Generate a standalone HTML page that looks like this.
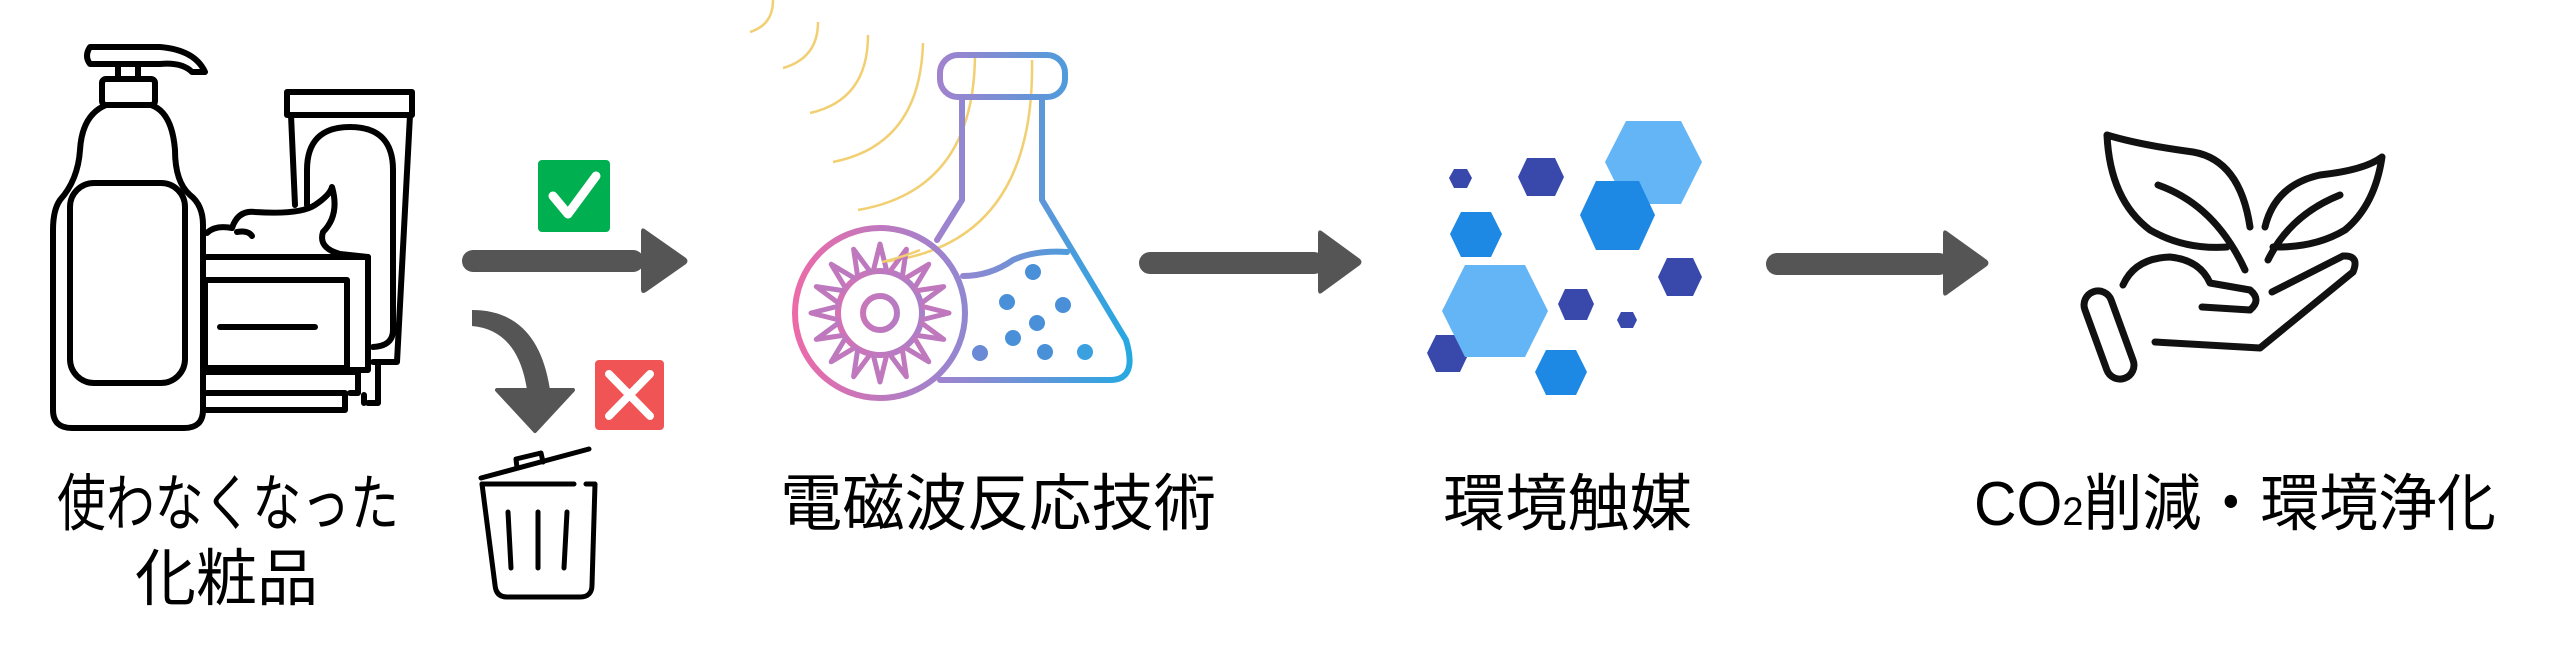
<!DOCTYPE html>
<html><head><meta charset="utf-8"><style>
html,body{margin:0;padding:0;background:#fff;}
svg{display:block;}
text{font-family:"Liberation Sans","Noto Sans CJK JP",sans-serif;fill:#000;}
</style></head><body>
<svg width="2560" height="653" viewBox="0 0 2560 653" xmlns="http://www.w3.org/2000/svg">
<defs>
<linearGradient id="g" x1="795" y1="0" x2="1135" y2="0" gradientUnits="userSpaceOnUse">
<stop offset="0" stop-color="#ec6aa8"/><stop offset="0.45" stop-color="#9b84cf"/><stop offset="1" stop-color="#22a9e2"/>
</linearGradient>
</defs>

<!-- cosmetics -->
<g fill="none" stroke="#000" stroke-width="6" stroke-linejoin="round" stroke-linecap="round">
<path d="M90 47 H160 Q195 50 205 72 H192 Q182 62 160 64 H90 Q84 56 90 47 Z"/>
<path d="M118 64 V79 M138 64 V79"/>
<rect x="102" y="79" width="53" height="26" rx="4"/>
<path d="M106 105 Q82 115 80 150 Q78 180 60 200 Q53 210 53 230 V410 Q53 428 72 428 H184 Q203 428 203 410 V225 Q203 205 190 195 Q175 182 175 150 Q172 112 151 105"/>
<rect x="70" y="183" width="115" height="200" rx="24"/>
<path d="M287 92 H412 V115 H287 Z"/>
<path d="M291 115 L295 205 M410 115 L397 362 H373 M378 362 V403 H368 M364 403 V395"/>
<path d="M307 205 V170 Q307 127 350 127 Q393 127 393 170 V330 Q393 346 373 347"/>
<path d="M207 233 Q215 225 232 228 Q238 210 255 212 Q300 215 315 205 Q330 195 332 187 Q340 215 323 232 Q318 248 340 254 L368 257"/>
<path d="M237 232 Q248 230 252 236"/>
<path d="M205 257 H368 V370 H347"/>
<rect x="205" y="280" width="142" height="88"/>
<path d="M220 327 H315"/>
<path d="M205 372 H358 V393 H350 M205 393 H345 V410 H205"/>
</g>

<!-- check & arrow 1 -->
<rect x="538" y="160" width="72" height="72" rx="4" fill="#00b050"/>
<path d="M553 196 L568 214 L596 176" fill="none" stroke="#fff" stroke-width="9" stroke-linecap="round" stroke-linejoin="round"/>
<rect x="462" y="250" width="182" height="22" rx="11" fill="#555"/>
<path d="M641 232 Q641 226 646 230 L686 258 Q689 261 686 264 L646 292 Q641 295 641 289 Z" fill="#555"/>

<!-- curved arrow -->
<path d="M472 310 Q538 310 550 390 L527 390 Q518 330 472 326 Z" fill="#555"/>
<path d="M497 390 L573 390 L535 431 Z" fill="#555" stroke="#555" stroke-width="4" stroke-linejoin="round"/>
<rect x="595" y="360" width="69" height="70" rx="4" fill="#f05455"/>
<path d="M609 374 L650 416 M650 374 L609 416" stroke="#fff" stroke-width="8" stroke-linecap="round"/>

<!-- trash -->
<g fill="none" stroke="#000" stroke-width="5" stroke-linecap="round" stroke-linejoin="round">
<path d="M481 478 L589 449"/>
<path d="M517 468 L516 459 L541 453 L543 462"/>
<path d="M482 484 H574"/>
<path d="M586 484 H595 L592 585 Q592 597 580 597 H507 Q496 597 495 585 L482 484"/>
<path d="M508 512 L511 568 M538 512 V568 M567 512 L564 568"/>
</g>

<!-- yellow waves -->
<g fill="none" stroke="#f1cf72" stroke-width="2.5">
<path d="M773 0 Q773 25 750 32"/>
<path d="M818 22 Q818 58 783 68"/>
<path d="M868 35 Q868 100 810 113"/>
<path d="M923 43 Q920 145 833 162"/>
<path d="M975 53 Q975 190 858 210"/>
<path d="M1032 60 Q1035 245 882 262"/>
</g>

<!-- flask -->
<g fill="none" stroke="url(#g)" stroke-width="6" stroke-linejoin="round" stroke-linecap="round">
<rect x="940" y="55" width="125" height="42" rx="18"/>
<path d="M962 97 V200 L937 240"/>
<path d="M1042 97 V200 L1126 340 Q1138 380 1110 380 H940"/>
<path d="M963 276 Q990 276 1013 260 Q1035 250 1067 252"/>
<circle cx="880" cy="313" r="85"/>
<circle cx="880" cy="313" r="42"/>
<circle cx="880" cy="313" r="17"/>
</g>
<g fill="none" stroke="url(#g)" stroke-width="5" stroke-linejoin="round">
<path id="sp" d="M873 272 L880 244 L887 272"/>
<use href="#sp" transform="rotate(22.5 880 313)"/><use href="#sp" transform="rotate(45 880 313)"/><use href="#sp" transform="rotate(67.5 880 313)"/><use href="#sp" transform="rotate(90 880 313)"/><use href="#sp" transform="rotate(112.5 880 313)"/><use href="#sp" transform="rotate(135 880 313)"/><use href="#sp" transform="rotate(157.5 880 313)"/><use href="#sp" transform="rotate(180 880 313)"/><use href="#sp" transform="rotate(202.5 880 313)"/><use href="#sp" transform="rotate(225 880 313)"/><use href="#sp" transform="rotate(247.5 880 313)"/><use href="#sp" transform="rotate(270 880 313)"/><use href="#sp" transform="rotate(292.5 880 313)"/><use href="#sp" transform="rotate(315 880 313)"/><use href="#sp" transform="rotate(337.5 880 313)"/>
</g>
<g fill="#4a90d9">
<circle cx="1033" cy="272" r="8"/><circle cx="1007" cy="302" r="8"/><circle cx="1063" cy="305" r="8"/><circle cx="1037" cy="323" r="8"/><circle cx="1013" cy="338" r="8"/><circle cx="980" cy="353" r="8" fill="#6a8ad6"/><circle cx="1045" cy="352" r="8"/><circle cx="1085" cy="352" r="8" fill="#3aa0e0"/>
</g>
<path d="M882 262 Q900 258 920 250" fill="none" stroke="#f1cf72" stroke-width="2.5"/>

<!-- arrow 2 -->
<rect x="1139" y="252" width="186" height="22" rx="11" fill="#555"/>
<path d="M1318 234 Q1318 228 1323 232 L1360 259 Q1363 262 1360 265 L1323 292 Q1318 296 1318 290 Z" fill="#555"/>

<!-- hexagons -->
<g>
<polygon points="1605,162 1626,121 1681,121 1702,162 1681,204 1626,204" fill="#64b5f6"/>
<polygon points="1580,215 1596,181 1639,181 1655,215 1639,250 1596,250" fill="#1e88e5"/>
<polygon points="1518,177 1527,158 1555,158 1564,177 1555,196 1527,196" fill="#3949ab"/>
<polygon points="1449,178 1454,169 1467,169 1472,178 1467,188 1454,188" fill="#3949ab"/>
<polygon points="1450,234 1461,212 1491,212 1502,234 1491,257 1461,257" fill="#1e88e5"/>
<polygon points="1427,353 1436,335 1460,335 1469,353 1460,372 1436,372" fill="#3949ab"/>
<polygon points="1442,311 1465,265 1525,265 1548,311 1525,357 1465,357" fill="#64b5f6"/>
<polygon points="1535,372 1546,350 1576,350 1587,372 1576,395 1546,395" fill="#1e88e5"/>
<polygon points="1558,304 1565,289 1587,289 1594,304 1587,320 1565,320" fill="#3949ab"/>
<polygon points="1617,320 1621,312 1633,312 1637,320 1633,328 1621,328" fill="#3949ab"/>
<polygon points="1658,277 1667,258 1693,258 1702,277 1693,296 1667,296" fill="#3949ab"/>
</g>

<!-- arrow 3 -->
<rect x="1766" y="253" width="184" height="22" rx="11" fill="#555"/>
<path d="M1943 234 Q1943 228 1948 232 L1987 260 Q1990 263 1987 266 L1948 294 Q1943 298 1943 292 Z" fill="#555"/>

<!-- plant in hand -->
<g fill="none" stroke="#111" stroke-width="7" stroke-linecap="round" stroke-linejoin="round">
<path d="M2250 227 Q2240 160 2193 152 Q2140 145 2107 135 Q2110 200 2150 230 Q2185 250 2227 247"/>
<path d="M2158 185 Q2215 205 2245 270"/>
<path d="M2265 227 Q2275 185 2320 175 Q2365 170 2382 157 Q2375 205 2345 230 Q2315 248 2273 247"/>
<path d="M2340 195 Q2290 215 2268 260"/>
<path d="M2123 285 Q2135 258 2170 257 Q2200 260 2210 283 L2250 290 Q2262 300 2250 310 L2202 307"/>
<path d="M2272 292 L2343 256 Q2360 255 2353 272 L2260 348 L2155 342"/>
<rect x="2095" y="289" width="28" height="92" rx="14" transform="rotate(-20 2109 335)"/>
</g>

<!-- labels -->
<text x="57" y="525" font-size="62" textLength="342" lengthAdjust="spacingAndGlyphs">使わなくなった</text>
<text x="135" y="600" font-size="62" textLength="183" lengthAdjust="spacingAndGlyphs">化粧品</text>
<text x="780" y="525" font-size="62" textLength="436" lengthAdjust="spacingAndGlyphs">電磁波反応技術</text>
<text x="1443" y="525" font-size="62" textLength="249" lengthAdjust="spacingAndGlyphs">環境触媒</text>
<text x="1974" y="525" font-size="62" textLength="522" lengthAdjust="spacingAndGlyphs">CO<tspan font-size="40">2</tspan>削減・環境浄化</text>
</svg>
</body></html>
